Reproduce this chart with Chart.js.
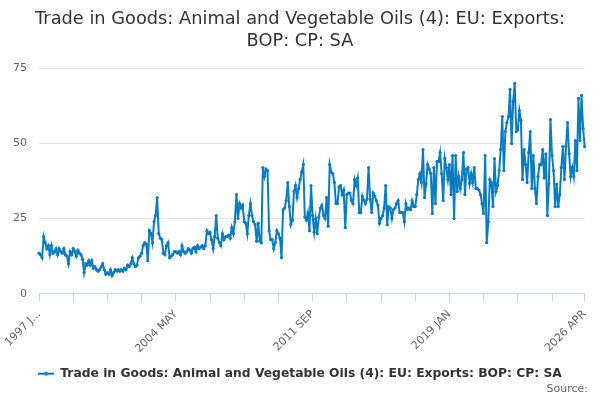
<!DOCTYPE html>
<html>
<head>
<meta charset="utf-8">
<script src="https://cdn.jsdelivr.net/npm/chart.js@4/dist/chart.umd.min.js"></script>
<style>
  body { margin: 0; background: #fff; }
  #wrap { width: 600px; height: 400px; }
</style>
</head>
<body>
<div id="wrap"><canvas id="chart" width="600" height="400"></canvas></div>
<script>
const chartTitle = ["Trade in Goods: Animal and Vegetable Oils (4): EU: Exports:", "BOP: CP: SA"];
const seriesName = "Trade in Goods: Animal and Vegetable Oils (4): EU: Exports: BOP: CP: SA";
const startYear = 1997;
const monthNames = ["JAN","FEB","MAR","APR","MAY","JUN","JUL","AUG","SEP","OCT","NOV","DEC"];

// monthly values, 1997 JAN .. 2026 APR
const values = [
  13.5, 13, 12, 19, 17, 15, 16, 13, 16, 13.5, 14, 15, 13, 15, 14, 13.5, 15, 13, 12.5, 10,
  14, 13, 15, 14, 12.5, 14.5, 13.5, 13, 11.5, 7, 10, 9.5, 11, 9.5, 11, 8.5, 9, 8, 7.5, 8,
  9, 10, 8, 6.5, 7, 6.5, 8, 6, 7, 8, 7.5, 8, 7.5, 8, 7.5, 8.5, 8, 9.5, 9, 10,
  12, 10, 9, 9.5, 12, 12.5, 13.5, 16, 17, 16.5, 11, 21, 20, 17, 24, 26, 32, 20, 18.5, 18,
  13.5, 13, 16, 17, 12, 12.5, 13, 14, 14, 13.5, 14, 13, 16, 14, 13.5, 14, 15, 14.5, 13.5, 15,
  15.5, 14, 16, 15,
  15.5, 16, 15, 16, 21, 20, 20.5, 18, 15, 19, 26, 18.5, 17, 16, 20, 18, 19, 19, 19.5, 18.5,
  22, 20, 24, 33, 25, 30, 28.5, 29.5, 24, 23.5, 20, 26, 30, 26, 24, 23, 17.5, 23.5, 17.5, 17,
  42, 39, 41.5, 41, 21, 18, 18, 15, 17, 21, 20, 18.5, 12, 28, 28.5, 31, 37, 29, 23, 24.5,
  34, 36, 32, 35, 38, 40.5, 43,
  25.5, 24.5, 27, 21, 36, 26, 20.5, 25, 20, 25.5, 28.5, 29.5, 26, 25, 32, 22.5, 43, 40.5, 40, 37,
  30, 30, 35.5, 36, 33, 34.5, 22, 33, 33.5, 33.5, 31, 30, 38, 36, 38.5, 27, 27, 32.5, 31, 30,
  31.5, 42, 31.5, 27, 33.5, 32.5, 31, 29.5, 23.5,
  25, 26, 28.5, 36, 23, 29, 28.5, 25, 28, 28.5, 30, 31, 27, 27, 27, 24, 30, 28, 28.5, 28,
  31, 29, 29, 33, 38, 40, 37, 48, 32, 36.5, 43, 41.5, 40, 26.7, 42, 30, 44, 44, 47, 40,
  31, 45, 42, 38, 43, 33, 46, 25, 46, 34, 39, 35, 38, 47, 33, 41.5, 42, 36.7, 40, 37,
  42, 35, 35, 34.5, 33, 30, 26.7, 46, 17, 24, 38, 37, 29, 45, 34, 36, 41,
  48, 59, 41, 54, 57, 59, 68, 50, 64, 70, 54, 54.5, 61, 57.7, 38,
  48, 43, 37, 47, 54, 35, 46, 35, 30, 39, 43, 43, 48, 38.5, 46.6, 26, 36.7,
  58, 46, 41, 29, 36.5, 29, 33, 42, 49, 38, 49,
  57, 46.6, 39, 42, 39, 51, 41, 65, 51, 66, 55, 49
];

const tickLabels = ["1997 J...", "2004 MAY", "2011 SEP", "2019 JAN", "2026 APR"];
const labelEvery = 88;
const tickEvery = 22;
const yTicks = [0, 25, 50, 75];

const months = values.map((v, i) => (startYear + Math.floor(i / 12)) + " " + monthNames[i % 12]);
const lastIndex = values.length - 1;

const lineColor = "#0a7cc1";
const axisColor = "#ccd6eb";

function isTick(i) {
  return i % tickEvery === 0 || i === lastIndex;
}
function tickText(i) {
  if (i === lastIndex) return tickLabels[tickLabels.length - 1];
  if (i % labelEvery === 0) return tickLabels[i / labelEvery];
  return "";
}

// legend marker: short line with a dot
const marker = document.createElement("canvas");
marker.width = 16;
marker.height = 8;
const mctx = marker.getContext("2d");
mctx.strokeStyle = lineColor;
mctx.lineWidth = 2;
mctx.beginPath();
mctx.moveTo(0, 4);
mctx.lineTo(16, 4);
mctx.stroke();
mctx.fillStyle = lineColor;
mctx.beginPath();
mctx.arc(8, 4, 2, 0, Math.PI * 2);
mctx.fill();

new Chart(document.getElementById("chart"), {
  type: "line",
  data: {
    labels: months,
    datasets: [{
      label: seriesName,
      data: values,
      borderColor: lineColor,
      backgroundColor: lineColor,
      borderWidth: 2,
      pointRadius: 1.6,
      pointBorderWidth: 0,
      pointBackgroundColor: lineColor,
      tension: 0,
      fill: false
    }]
  },
  options: {
    responsive: false,
    animation: false,
    layout: { padding: { left: 12, right: 12, top: 0, bottom: 4 } },
    plugins: {
      title: {
        display: true,
        text: chartTitle,
        color: "#333333",
        font: { family: "DejaVu Sans", size: 17.8, weight: "normal", lineHeight: 1.22 },
        padding: { top: 9, bottom: 16 }
      },
      subtitle: {
        display: true,
        text: "Source:",
        position: "bottom",
        align: "end",
        color: "#666666",
        font: { family: "DejaVu Sans", size: 11, weight: "normal" },
        padding: { top: -7, bottom: 0 }
      },
      legend: {
        position: "bottom",
        labels: {
          color: "#333333",
          font: { family: "DejaVu Sans", size: 12.3, weight: "bold" },
          usePointStyle: true,
          pointStyle: marker,
          pointStyleWidth: 16,
          boxHeight: 8,
          padding: 2
        }
      },
      tooltip: { enabled: false }
    },
    scales: {
      x: {
        type: "category",
        offset: false,
        border: { display: true, color: axisColor, width: 1 },
        grid: {
          drawOnChartArea: false,
          drawTicks: true,
          tickLength: 8,
          tickColor: ctx => isTick(ctx.index) ? axisColor : "rgba(0,0,0,0)",
          color: ctx => isTick(ctx.index) ? axisColor : "rgba(0,0,0,0)"
        },
        ticks: {
          autoSkip: false,
          maxRotation: 45,
          minRotation: 45,
          color: "#666666",
          font: { family: "DejaVu Sans", size: 11 },
          padding: 6,
          callback: (value, index) => tickText(index)
        },
        afterFit: axis => {
          axis.height += 4;
          axis.paddingRight = Math.max(axis.paddingRight, 5);
        }
      },
      y: {
        min: 0,
        max: 75,
        afterBuildTicks: axis => { axis.ticks = yTicks.map(v => ({ value: v })); },
        afterFit: axis => { axis.width = 27; },
        border: { display: false },
        grid: { color: "#e6e6e6", drawTicks: false },
        ticks: {
          color: "#666666",
          font: { family: "DejaVu Sans", size: 11 },
          padding: 12
        }
      }
    }
  }
});
</script>
</body>
</html>
